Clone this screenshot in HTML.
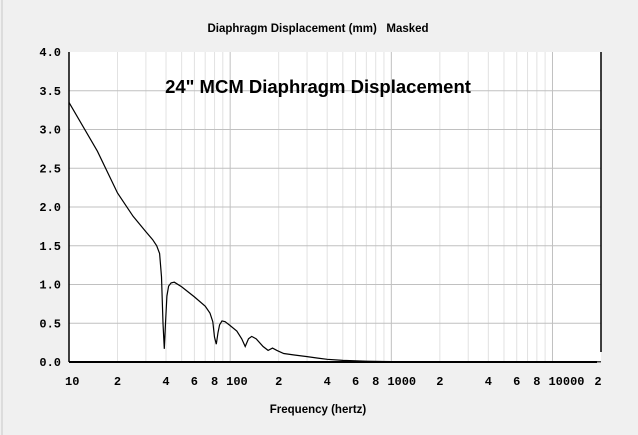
<!DOCTYPE html>
<html><head><meta charset="utf-8"><style>
body{margin:0;background:#f0f0f0;}
svg{display:block;font-family:"Liberation Sans",sans-serif;}
</style></head><body>
<svg width="638" height="435">
<rect x="0" y="0" width="638" height="435" fill="#f0f0f0"/>
<line x1="2" y1="0" x2="2" y2="435" stroke="#c8c8c8"/>
<text x="318" y="32" text-anchor="middle" font-size="11.5" font-weight="bold">Diaphragm Displacement (mm)&#160;&#160;&#160;Masked</text>
<rect x="69" y="52" width="532" height="310" fill="#fff"/>
<g id="grid"></g>
<g id="ylabels" font-family="Liberation Mono,monospace" font-size="12" font-weight="bold"></g>
<g id="xlabels" font-family="Liberation Mono,monospace" font-size="12" font-weight="bold"></g>
<polyline id="curve" fill="none" stroke="#000" stroke-width="1.2"/>
<line x1="69" y1="52" x2="69" y2="362" stroke="#000" stroke-width="1.5"/>
<line x1="601" y1="52" x2="601" y2="352" stroke="#000" stroke-width="1.5"/>
<line x1="69" y1="362" x2="597" y2="362" stroke="#000" stroke-width="2"/>
<text x="318" y="93" text-anchor="middle" font-size="18.5" font-weight="bold">24" MCM Diaphragm Displacement</text>
<text x="318" y="413" text-anchor="middle" font-size="11.5" font-weight="bold">Frequency (hertz)</text>
</svg>
<script>
const freqs=[10,15,20,25,30,33,35,36.5,37.5,38.3,39,39.7,40.5,41.5,43,45,50,60,70,75,78,80,82,84,86,89,93,100,110,118,124,130,136,145,160,172,183,195,215,250,300,350,400,500,700,1000,3000,20000];
const values=[3.35,2.72,2.18,1.88,1.68,1.58,1.5,1.4,1.1,0.5,0.17,0.5,0.85,0.98,1.02,1.03,0.97,0.84,0.72,0.63,0.52,0.32,0.23,0.38,0.48,0.53,0.52,0.47,0.4,0.3,0.2,0.3,0.33,0.3,0.2,0.15,0.18,0.15,0.11,0.09,0.07,0.05,0.035,0.02,0.01,0.005,0.003,0.002];
const yTicks=["0.0","0.5","1.0","1.5","2.0","2.5","3.0","3.5","4.0"];
const xTickFreqs=[10,20,40,60,80,100,200,400,600,800,1000,2000,4000,6000,8000,10000,20000];
const xTickLabels=["10","2","4","6","8","100","2","4","6","8","1000","2","4","6","8","10000","2"];
const X0=69,X1=601,Y0=362,Y1=52,FMIN=10,FMAX=20000,VMAX=4;
const xs=f=>X0+(Math.log10(f)-Math.log10(FMIN))/(Math.log10(FMAX)-Math.log10(FMIN))*(X1-X0);
const ys=v=>Y0-v/VMAX*(Y0-Y1);
const NS="http://www.w3.org/2000/svg";
const grid=document.getElementById('grid');
for(let d=10;d<=10000;d*=10){for(let m=1;m<10;m++){const f=d*m;if(f<=FMIN||f>=FMAX)continue;
const l=document.createElementNS(NS,'line');const x=xs(f);
l.setAttribute('x1',x);l.setAttribute('x2',x);l.setAttribute('y1',Y1);l.setAttribute('y2',Y0);
l.setAttribute('stroke',m===1?'#c0c0c0':'#e2e2e2');


grid.appendChild(l);}}
const yl=document.getElementById('ylabels');
yTicks.forEach(t=>{const v=parseFloat(t);const y=ys(v);
if(v>0&&v<VMAX){const l=document.createElementNS(NS,'line');
l.setAttribute('x1',X0);l.setAttribute('x2',X1);l.setAttribute('y1',y);l.setAttribute('y2',y);l.setAttribute('stroke','#c0c0c0');


grid.appendChild(l);}
const tx=document.createElementNS(NS,'text');tx.setAttribute('x',61);tx.setAttribute('y',y+4);tx.setAttribute('text-anchor','end');tx.textContent=t;


yl.appendChild(tx);});
const xl=document.getElementById('xlabels');
xTickFreqs.forEach((f,i)=>{const lab=xTickLabels[i];const tx=document.createElementNS(NS,'text');
let x=xs(f);if(lab.length>1){tx.setAttribute('text-anchor','start');x-=4;}else tx.setAttribute('text-anchor','middle');
if(f===FMAX)x-=3;
tx.setAttribute('x',x);tx.setAttribute('y',385);tx.textContent=lab;


xl.appendChild(tx);});
document.getElementById('curve').setAttribute('points',freqs.map((f,i)=>xs(f).toFixed(1)+','+ys(values[i]).toFixed(1)).join(' '));
</script>
</body></html>
